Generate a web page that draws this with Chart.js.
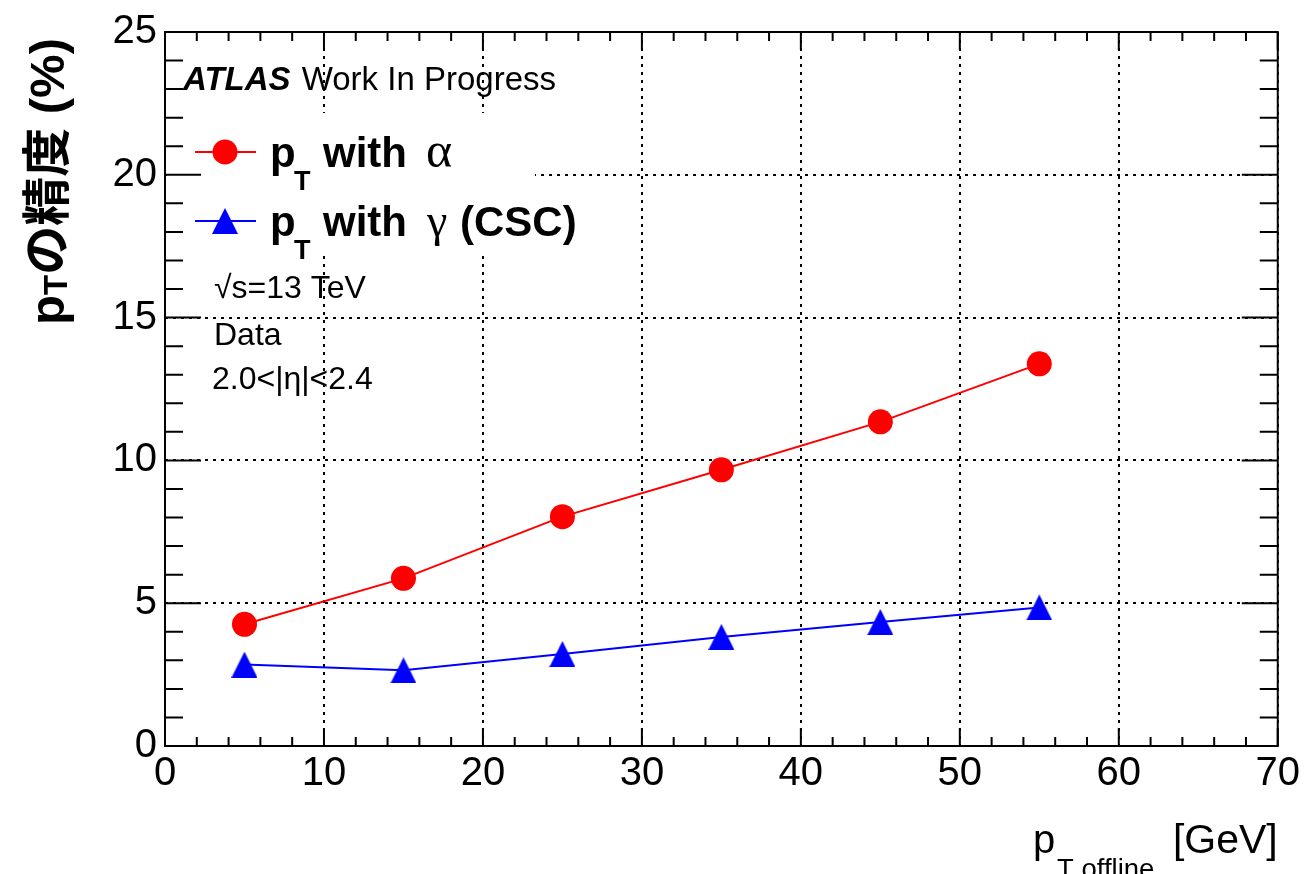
<!DOCTYPE html>
<html>
<head>
<meta charset="utf-8">
<script src="https://cdn.jsdelivr.net/npm/chart.js@4.4.1/dist/chart.umd.min.js"></script>
<style>
  html, body { margin: 0; padding: 0; background: #fff; }
  #wrap { width: 1304px; height: 874px; }
</style>
</head>
<body>
<div id="wrap"><canvas id="chart" width="1304" height="874"></canvas></div>
<script>
// pT resolution vs offline pT
const ptBins   = [5, 15, 25, 35, 45, 55];
const resAlpha = [4.26, 5.87, 8.03, 9.67, 11.35, 13.38];
const resGamma = [2.85, 2.65, 3.22, 3.82, 4.34, 4.85];
const xRange   = [0, 70];
const yRange   = [0, 25];
const xStep    = 10;
const yStep    = 5;

const SANS  = "'Liberation Sans', Arial, 'Noto Sans CJK JP', sans-serif";
const SERIF = "'Liberation Serif', 'DejaVu Serif', serif";
const RED   = '#ff0000';
const BLUE  = '#0000ff';

function triangleMarker(size, color) {
  const c = document.createElement('canvas');
  c.width = c.height = size;
  const g = c.getContext('2d');
  g.fillStyle = color;
  g.beginPath();
  g.moveTo(size / 2, 0);
  g.lineTo(size, size);
  g.lineTo(0, size);
  g.closePath();
  g.fill();
  return c;
}
const TRI = triangleMarker(26, BLUE);

function txt(ctx, s, font, x, y) {
  ctx.font = font;
  ctx.fillText(s, x, y);
  return x + ctx.measureText(s).width;
}

// ROOT-like frame, inward ticks, legend and labels
const rootStyle = {
  id: 'rootStyle',
  beforeDatasetsDraw(chart) {
    const { ctx } = chart;
    ctx.save();
    ctx.fillStyle = '#fff';
    ctx.fillRect(167, 113, 368, 142);
    ctx.restore();
  },
  afterDraw(chart) {
    const { ctx, chartArea: a, scales: { x, y } } = chart;
    ctx.save();
    ctx.strokeStyle = '#000';
    ctx.fillStyle = '#000';
    ctx.lineWidth = 2;
    ctx.strokeRect(a.left, a.top, a.right - a.left, a.bottom - a.top);

    ctx.beginPath();
    for (let v = yRange[0]; v <= yRange[1]; v += 1) {
      const py = y.getPixelForValue(v);
      const len = v % yStep === 0 ? 36 : 18;
      ctx.moveTo(a.left, py);  ctx.lineTo(a.left + len, py);
      ctx.moveTo(a.right, py); ctx.lineTo(a.right - len, py);
    }
    for (let v = xRange[0]; v <= xRange[1]; v += 2) {
      const px = x.getPixelForValue(v);
      const len = v % xStep === 0 ? 18 : 9;
      ctx.moveTo(px, a.bottom); ctx.lineTo(px, a.bottom - len);
      ctx.moveTo(px, a.top);    ctx.lineTo(px, a.top + len);
    }
    ctx.stroke();

    ctx.textBaseline = 'alphabetic';
    ctx.textAlign = 'left';

    // ATLAS label
    let cx = txt(ctx, 'ATLAS', `italic bold 33px ${SANS}`, 183, 90);
    txt(ctx, ' Work In Progress', `33px ${SANS}`, cx + 2, 90);

    // legend
    ctx.lineWidth = 2;
    ctx.strokeStyle = RED;
    ctx.beginPath(); ctx.moveTo(195, 152); ctx.lineTo(256, 152); ctx.stroke();
    ctx.fillStyle = RED;
    ctx.beginPath(); ctx.arc(225, 152, 12.5, 0, Math.PI * 2); ctx.fill();
    ctx.strokeStyle = BLUE;
    ctx.beginPath(); ctx.moveTo(195, 221); ctx.lineTo(256, 221); ctx.stroke();
    ctx.drawImage(TRI, 225 - 13, 221 - 13);

    ctx.fillStyle = '#000';
    txt(ctx, 'p', `bold 42px ${SANS}`, 270, 167);
    txt(ctx, 'T', `bold 27px ${SANS}`, 294, 190);
    txt(ctx, 'with', `bold 42px ${SANS}`, 323, 167);
    txt(ctx, 'α', `50px ${SERIF}`, 426, 167);

    txt(ctx, 'p', `bold 42px ${SANS}`, 270, 236);
    txt(ctx, 'T', `bold 27px ${SANS}`, 294, 259);
    txt(ctx, 'with', `bold 42px ${SANS}`, 323, 236);
    txt(ctx, 'γ', `46px ${SERIF}`, 427, 236);
    txt(ctx, '(CSC)', `bold 42px ${SANS}`, 460, 236);

    // info text
    txt(ctx, '√s=13 TeV', `32px ${SANS}`, 214, 298);
    txt(ctx, 'Data', `32px ${SANS}`, 214, 345);
    txt(ctx, '2.0<|η|<2.4', `32px ${SANS}`, 212, 389);

    // x title
    txt(ctx, 'p', `40px ${SANS}`, 1033, 853);
    txt(ctx, 'T offline', `27.5px ${SANS}`, 1057, 878);
    ctx.textAlign = 'right';
    txt(ctx, '[GeV]', `41px ${SANS}`, a.right, 853);

    // y title (rotated, anchored at top)
    ctx.textAlign = 'left';
    ctx.translate(64, 38);
    ctx.rotate(-Math.PI / 2);
    const parts = [
      ['p', `bold 49px ${SANS}`, 0],
      ['T', `bold 33px ${SANS}`, 3],
      ['の精度 (%)', `bold 49px ${SANS}`, 0],
    ];
    let w = 0;
    parts.forEach(p => { ctx.font = p[1]; w += ctx.measureText(p[0]).width; });
    let tx = -w;
    parts.forEach(p => { tx = txt(ctx, p[0], p[1], tx, p[2]); });
    ctx.restore();
  },
};

const gridOpts = { color: '#000', lineWidth: 2, drawTicks: false };

new Chart(document.getElementById('chart'), {
  type: 'scatter',
  data: {
    datasets: [
      {
        label: 'pT with alpha',
        data: ptBins.map((v, i) => ({ x: v, y: resAlpha[i] })),
        showLine: true,
        borderColor: RED,
        backgroundColor: RED,
        borderWidth: 2,
        pointStyle: 'circle',
        pointRadius: 12.5,
        pointBorderWidth: 0,
        tension: 0,
      },
      {
        label: 'pT with gamma (CSC)',
        data: ptBins.map((v, i) => ({ x: v, y: resGamma[i] })),
        showLine: true,
        borderColor: BLUE,
        backgroundColor: BLUE,
        borderWidth: 2,
        pointStyle: TRI,
        pointRadius: 13,
        pointBorderWidth: 0,
        tension: 0,
      },
    ],
  },
  options: {
    responsive: false,
    animation: false,
    devicePixelRatio: 1,
    layout: { padding: { top: 27, right: 26, left: 0, bottom: 0 } },
    plugins: { legend: { display: false }, tooltip: { enabled: false } },
    scales: {
      x: {
        type: 'linear',
        min: xRange[0], max: xRange[1],
        grid: gridOpts,
        border: { display: false, dash: [3, 5] },
        ticks: { stepSize: xStep, color: '#000', font: { family: SANS, size: 40 }, padding: 4, maxRotation: 0 },
        afterFit: s => { s.height = 128; },
      },
      y: {
        min: yRange[0], max: yRange[1],
        grid: gridOpts,
        border: { display: false, dash: [3, 5] },
        ticks: { stepSize: yStep, color: '#000', font: { family: SANS, size: 40 }, padding: 8 },
        afterFit: s => { s.width = 165; },
      },
    },
  },
  plugins: [rootStyle],
});
</script>
</body>
</html>
